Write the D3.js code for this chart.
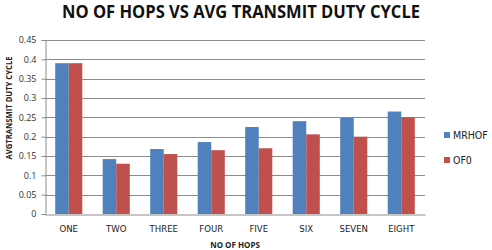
<!DOCTYPE html>
<html>
<head>
<meta charset="utf-8">
<script src="https://cdn.jsdelivr.net/npm/d3@7"></script>
<style>
body { margin: 0; background: #fff; }
text { font-family: "Open Sans", "DejaVu Sans", sans-serif; }
</style>
</head>
<body>
<div id="chart"></div>
<script>
// data
var hops = ["ONE", "TWO", "THREE", "FOUR", "FIVE", "SIX", "SEVEN", "EIGHT"];
var seriesNames = ["MRHOF", "OF0"];
var mrhof = [0.39, 0.142, 0.168, 0.186, 0.225, 0.24, 0.249, 0.265];
var of0 = [0.39, 0.13, 0.155, 0.165, 0.17, 0.206, 0.2, 0.25];
var yTicks = [0, 0.05, 0.1, 0.15, 0.2, 0.25, 0.3, 0.35, 0.4, 0.45];
var colors = ["#4F81BD", "#C0504D"];

var width = 492, height = 250;
var margin = {left: 45, right: 67, top: 40, bottom: 36};

var svg = d3.select("#chart").append("svg")
	.attr("width", width)
	.attr("height", height);

var x = d3.scaleBand()
	.domain(hops)
	.range([margin.left, width - margin.right])
	.paddingInner(0.43)
	.paddingOuter(0.215);

var x1 = d3.scaleBand()
	.domain(seriesNames)
	.range([0, x.bandwidth()]);

var y = d3.scaleLinear()
	.domain([0, 0.45])
	.range([height - margin.bottom, margin.top]);

// gridlines
svg.append("g")
	.selectAll("line")
	.data(yTicks.slice(1))
	.enter().append("line")
		.attr("x1", margin.left)
		.attr("x2", width - margin.right)
		.attr("y1", function(d){ return Math.round(y(d)) + 0.5; })
		.attr("y2", function(d){ return Math.round(y(d)) + 0.5; })
		.attr("stroke", "#8c8c8c")
		.attr("stroke-width", 1);

// y axis
var yAxis = svg.append("g")
	.attr("transform", "translate(" + (margin.left + 0.5) + ",0)")
	.call(d3.axisLeft(y).tickValues(yTicks).tickSize(4).tickPadding(5)
		.tickFormat(function(d){ return d3.format("")(+d.toFixed(2)); }));
yAxis.select(".domain").attr("stroke", "#8c8c8c");
yAxis.selectAll(".tick line").attr("stroke", "#8c8c8c");
yAxis.selectAll(".tick text")
	.attr("fill", "#333")
	.style("font-size", "9px");

// bars
var data = hops.map(function(h, i){ return {hop: h, vals: [mrhof[i], of0[i]]}; });

var groups = svg.append("g")
	.selectAll("g")
	.data(data)
	.enter().append("g")
		.attr("transform", function(d){ return "translate(" + x(d.hop) + ",0)"; });

groups.selectAll("rect")
	.data(function(d){ return d.vals.map(function(v, j){ return {name: seriesNames[j], value: v, j: j}; }); })
	.enter().append("rect")
		.attr("x", function(d){ return x1(d.name); })
		.attr("width", x1.bandwidth())
		.attr("y", function(d){ return y(d.value); })
		.attr("height", function(d){ return y(0) - y(d.value); })
		.attr("fill", function(d){ return colors[d.j]; });

// x axis
var xAxis = svg.append("g")
	.attr("transform", "translate(0," + (y(0) + 0.5) + ")")
	.call(d3.axisBottom(x).tickSize(0).tickPadding(11));
xAxis.select(".domain").attr("stroke", "#8c8c8c");
xAxis.selectAll(".tick text")
	.attr("fill", "#222")
	.style("font-size", "9.5px")
	.style("font-family", "'Liberation Sans Narrow', 'DejaVu Sans Condensed', sans-serif");

// title
svg.append("text")
	.attr("x", 241)
	.attr("y", 18)
	.attr("text-anchor", "middle")
	.attr("textLength", 358)
	.attr("lengthAdjust", "spacingAndGlyphs")
	.style("font-size", "17px")
	.style("font-weight", "bold")
	.attr("fill", "#111")
	.text("NO OF HOPS VS AVG TRANSMIT DUTY CYCLE");

// axis titles
svg.append("text")
	.attr("transform", "translate(12,108) rotate(-90)")
	.attr("text-anchor", "middle")
	.attr("textLength", 103)
	.attr("lengthAdjust", "spacingAndGlyphs")
	.style("font-size", "9px")
	.style("font-weight", "bold")
	.attr("fill", "#222")
	.text("AVGTRANSMIT DUTY CYCLE");

svg.append("text")
	.attr("x", 235)
	.attr("y", 248)
	.attr("text-anchor", "middle")
	.style("font-size", "8px")
	.style("font-weight", "bold")
	.attr("fill", "#222")
	.text("NO OF HOPS");

// legend
var legend = svg.append("g")
	.selectAll("g")
	.data(seriesNames)
	.enter().append("g")
		.attr("transform", function(d, i){ return "translate(444," + (132 + i * 25) + ")"; });

legend.append("rect")
	.attr("width", 6)
	.attr("height", 6)
	.attr("fill", function(d, i){ return colors[i]; });

legend.append("text")
	.attr("x", 9)
	.attr("y", 7)
	.style("font-size", "10.5px")
	.style("font-family", "'Liberation Sans Narrow', 'DejaVu Sans Condensed', sans-serif")
	.attr("fill", "#222")
	.text(function(d){ return d; });
</script>
</body>
</html>
